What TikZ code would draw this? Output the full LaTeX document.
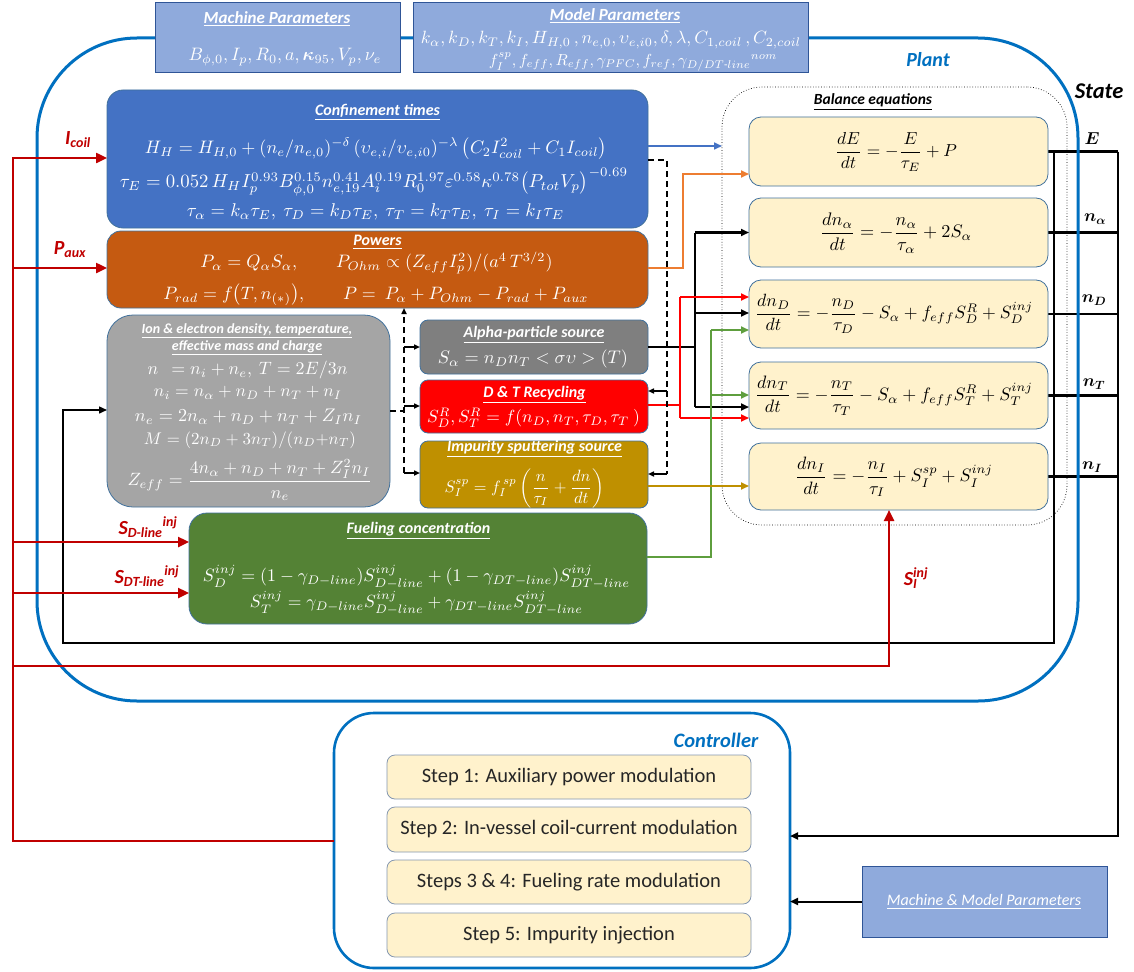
\documentclass[tikz,border=0pt]{standalone}
\usepackage[no-math]{fontspec}
\setmainfont{Carlito}
\usepackage{amsmath,amssymb,bm}
\usepackage{graphicx}
\usetikzlibrary{arrows.meta,calc}
\pgfdeclarelayer{bg}
\pgfsetlayers{bg,main}

\definecolor{plantblue}{HTML}{0070C0}
\definecolor{parfill}{HTML}{8FAADC}
\definecolor{parline}{HTML}{2F5597}
\definecolor{confblue}{HTML}{4472C4}
\definecolor{powersorange}{HTML}{C55A11}
\definecolor{iongray}{HTML}{A5A5A5}
\definecolor{alphagray}{HTML}{7F7F7F}
\definecolor{recycred}{HTML}{FF0000}
\definecolor{impgold}{HTML}{BF9000}
\definecolor{fuelgreen}{HTML}{548235}
\definecolor{fuelarrow}{HTML}{5E9E3E}
\definecolor{balfill}{HTML}{FFF2CC}
\definecolor{edgeblue}{HTML}{41719C}
\definecolor{stepline}{HTML}{8497B0}
\definecolor{ctrlred}{HTML}{C00000}
\definecolor{powarrow}{HTML}{ED7D31}
\definecolor{steptext}{HTML}{262626}

% fit a formula to a given width (in pt)
\newcommand{\fitw}[2]{\resizebox{#1pt}{!}{#2}}
\newcommand{\ttl}[1]{\underline{#1}}
\newcommand{\fsz}[1]{\fontsize{#1}{#1}\selectfont}

\tikzset{
  panel/.style={draw=edgeblue, line width=0.8pt},
  parbox/.style={draw=parline, fill=parfill, line width=1pt},
  balbox/.style={panel, fill=balfill, rounded corners=12pt, minimum width=299pt},
  stepbox/.style={draw=stepline, fill=balfill, line width=0.8pt, rounded corners=8pt, minimum width=364pt, minimum height=44pt},
  steptxt/.style={text=steptext, font=\fsz{20.5}},
  wtitle/.style={text=white, font=\fsz{16}\bfseries\itshape},
  btitle/.style={text=black, font=\fsz{15.5}\bfseries\itshape},
  redlbl/.style={text=ctrlred, font=\fsz{20}\bfseries\itshape},
  statelbl/.style={text=black, font=\fsz{18}\bfseries\itshape},
  arrS/.style={-{Triangle[length=6pt,width=5pt]}},
  arrM/.style={-{Triangle[length=8pt,width=7pt]}},
  arrL/.style={-{Triangle[length=11pt,width=10pt]}},
  stateln/.style={draw=black, line width=2.4pt},
  redln/.style={draw=ctrlred, line width=2.4pt},
  recline/.style={draw=recycred, line width=1.8pt},
  grnline/.style={draw=fuelarrow, line width=1.8pt},
  dashln/.style={draw=black, line width=1.8pt, dash pattern=on 6pt off 4pt},
}

\begin{document}
\begin{tikzpicture}[x=1pt,y=-1pt,every node/.style={inner sep=0pt,outer sep=0pt}]
\useasboundingbox (0,0) rectangle (1134,971);
\begin{pgfonlayer}{bg}
  \fill[white] (0,0) rectangle (1134,971);
\end{pgfonlayer}

% ---------- frames ----------
\node[draw=plantblue, line width=3pt, rounded corners=100pt, minimum width=1041pt, minimum height=663pt] (plant) at (557.5,369.5) {};
\node[draw=plantblue, line width=2.6pt, rounded corners=40pt, minimum width=456pt, minimum height=255pt] (ctrl) at (562,840.5) {};
\node[text=plantblue, font=\fsz{20}\bfseries\itshape] (plantlbl) at (928,60) {Plant};
\node[text=plantblue, font=\fsz{20.5}\bfseries\itshape] (ctrllbl) at (716,740) {Controller};
\node[text=black, font=\fsz{22.5}\bfseries\itshape] (statelbl) at (1099,91) {State};

% ---------- parameter boxes ----------
\node[parbox, minimum width=245pt, minimum height=70pt] (machine) at (277.5,38) {};
\node[parbox, minimum width=395pt, minimum height=70pt] (model) at (610.5,38) {};
\node[parbox, minimum width=245pt, minimum height=71pt] (mmp) at (984.5,901.5) {};

\node[wtitle, font=\fsz{17}\bfseries\itshape] (machT) at (277,19) {\ttl{Machine Parameters}};
\node[text=white] (machL) at (285,57) {\scalebox{1.8}{$B_{\phi,0}, I_p, R_0, a, \boldsymbol{\kappa}_{95}, V_p, \nu_e$}};
\node[wtitle, font=\fsz{17}\bfseries\itshape] (modT) at (615,16) {\ttl{Model Parameters}};
\node[text=white] (modL1) at (611,40) {\fitw{380}{$k_\alpha, k_D, k_T, k_I, H_{H,0}\,, n_{e,0}, \upsilon_{e,i0}, \delta, \lambda, C_{1,coil}\,, C_{2,coil}$}};
\node[text=white] (modL2) at (633,62) {\scalebox{1.6}{$f_I^{sp}, f_{eff}, R_{eff}, \gamma_{PFC}, f_{ref}, {\gamma_{D/DT\text{-}line}}^{nom}$}};
\node[text=white, font=\fsz{16}\itshape] (mmpT) at (984,902) {\ttl{Machine \& Model Parameters}};

% ---------- model blocks ----------
\node[panel, fill=confblue, rounded corners=16pt, minimum width=541pt, minimum height=138pt] (conf) at (377.5,159) {};
\node[panel, fill=powersorange, rounded corners=14pt, minimum width=541pt, minimum height=77pt] (powers) at (377.5,269.5) {};
\node[panel, fill=iongray, rounded corners=26pt, minimum width=283pt, minimum height=192pt] (ion) at (248.5,411) {};
\node[panel, fill=alphagray, rounded corners=8pt, minimum width=228pt, minimum height=54pt] (alpha) at (534,347) {};
\node[panel, fill=recycred, rounded corners=8pt, minimum width=228pt, minimum height=53pt] (recyc) at (534,406.5) {};
\node[panel, fill=impgold, rounded corners=8pt, minimum width=228pt, minimum height=67pt] (impur) at (534,474.5) {};
\node[panel, fill=fuelgreen, rounded corners=18pt, minimum width=458pt, minimum height=111pt] (fuel) at (418,568.5) {};

% confinement times
\node[wtitle] (confT) at (377.5,112) {\ttl{Confinement times}};
\node[text=white] (confL1) at (376,149) {\fitw{462}{$H_H = H_{H,0} + (n_e/n_{e,0})^{-\delta}\,(\upsilon_{e,i}/\upsilon_{e,i0})^{-\lambda}\,\big(C_2 I_{coil}^2 + C_1 I_{coil}\big)$}};
\node[text=white] (confL2) at (374,182) {\fitw{508}{$\tau_E = 0.052\,H_H I_p^{0.93} B_{\phi,0}^{0.15} n_{e,19}^{0.41} A_i^{0.19} R_0^{1.97} \varepsilon^{0.58} \kappa^{0.78} \big(P_{tot}V_p\big)^{-0.69}$}};
\node[text=white] (confL3) at (375.5,212) {\fitw{377}{$\tau_\alpha = k_\alpha\tau_E,\ \tau_D = k_D\tau_E,\ \tau_T = k_T\tau_E,\ \tau_I = k_I\tau_E$}};

% powers
\node[wtitle] (powT) at (377.5,242) {\ttl{Powers}};
\node[text=white] (powL1) at (376.5,263) {\fitw{352}{$P_\alpha = Q_\alpha S_\alpha,\qquad P_{Ohm} \propto (Z_{eff} I_p^2)/(a^4\,T^{3/2})$}};
\node[text=white] (powL2) at (376,295) {\fitw{425}{$P_{rad} = f\big(T, n_{(*)}\big),\qquad P = \ P_\alpha + P_{Ohm} - P_{rad} + P_{aux}$}};

% ion & electron quantities
\node[wtitle, font=\fsz{14}\bfseries\itshape] (ionT1) at (247,331) {\ttl{Ion \& electron density, temperature,}};
\node[wtitle, font=\fsz{14}\bfseries\itshape] (ionT2) at (247,348) {\ttl{effective mass and charge}};
\node[text=white] (ionL1) at (247.5,370) {\fitw{200}{$n\ \ = n_i + n_e,\ T = 2E/3n$}};
\node[text=white] (ionL2) at (248,393) {\fitw{188}{$n_i = n_\alpha + n_D + n_T + n_I$}};
\node[text=white] (ionL3) at (248.5,417) {\fitw{227}{$n_e = 2n_\alpha + n_D + n_T + Z_I n_I$}};
\node[text=white] (ionL4) at (250,440) {\fitw{212}{$M = (2n_D + 3n_T)/(n_D{+}n_T)$}};
\node[text=white] (ionL5) at (250,480) {\fitw{245}{$Z_{eff} = \dfrac{4n_\alpha + n_D + n_T + Z_I^2 n_I}{n_e}$}};

% sources
\node[wtitle] (alphaT) at (534,335) {\ttl{Alpha-particle source}};
\node[text=white] (alphaL) at (533,359) {\fitw{190}{$S_\alpha = n_D n_T < \sigma\upsilon > (T)$}};
\node[wtitle] (recT) at (534.5,395) {\ttl{D \& T Recycling}};
\node[text=white] (recL) at (533.5,418) {\fitw{213}{$S_D^R, S_T^R = f(n_D, n_T, \tau_D, \tau_T\ )$}};
\node[wtitle] (impT) at (534.5,449) {\ttl{Impurity sputtering source}};
\node[text=white] (impL) at (524.5,488) {\fitw{160}{$S_I^{sp} = f_I^{\,sp}\left(\dfrac{n}{\tau_I} + \dfrac{dn}{dt}\right)$}};

% fueling
\node[wtitle] (fuelT) at (418.5,531) {\ttl{Fueling concentration}};
\node[text=white] (fuelL1) at (416.5,577) {\fitw{427}{$S_D^{inj} = (1-\gamma_{D-line})S_{D-line}^{inj} + (1-\gamma_{DT-line})S_{DT-line}^{inj}$}};
\node[text=white] (fuelL2) at (416.5,603) {\fitw{333}{$S_T^{inj} = \gamma_{D-line}S_{D-line}^{inj} + \gamma_{DT-line}S_{DT-line}^{inj}$}};

% ---------- balance equations ----------
\node[draw=black, dotted, line width=0.7pt, rounded corners=40pt, minimum width=345pt, minimum height=438pt] (balgrp) at (894.5,306) {};
\node[btitle] (balTitle) at (873,102) {\ttl{Balance equations}};
\node[balbox, minimum height=69pt] (balE) at (898.5,151.5) {};
\node[balbox, minimum height=69pt] (balA) at (898.5,232.5) {};
\node[balbox, minimum height=68pt] (balD) at (898.5,314) {};
\node[balbox, minimum height=67pt] (balT) at (898.5,395.5) {};
\node[balbox, minimum height=67pt] (balI) at (898.5,476.5) {};
\node (eqE) at (896,152) {\fitw{122}{$\dfrac{dE}{dt} = -\dfrac{E}{\tau_E} + P$}};
\node (eqA) at (896,233) {\fitw{152}{$\dfrac{dn_\alpha}{dt} = -\dfrac{n_\alpha}{\tau_\alpha} + 2S_\alpha$}};
\node (eqD) at (894,314) {\fitw{278}{$\dfrac{dn_D}{dt} = -\dfrac{n_D}{\tau_D} - S_\alpha + f_{eff}S_D^R + S_D^{inj}$}};
\node (eqT) at (894,395.5) {\fitw{278}{$\dfrac{dn_T}{dt} = -\dfrac{n_T}{\tau_T} - S_\alpha + f_{eff}S_T^R + S_T^{inj}$}};
\node (eqI) at (894,477) {\fitw{198}{$\dfrac{dn_I}{dt} = -\dfrac{n_I}{\tau_I} + S_I^{sp} + S_I^{inj}$}};

% state labels
\node[statelbl] (lE) at (1092,139) {$\boldsymbol{E}$};
\node[statelbl] (lA) at (1095,219) {$\boldsymbol{n_\alpha}$};
\node[statelbl] (lD) at (1094,300) {$\boldsymbol{n_D}$};
\node[statelbl] (lT) at (1094,384) {$\boldsymbol{n_T}$};
\node[statelbl] (lI) at (1092,467) {$\boldsymbol{n_I}$};

% ---------- controller steps ----------
\node[stepbox] (step1) at (569,777) {};
\node[stepbox, minimum height=45pt] (step2) at (569,829.5) {};
\node[stepbox] (step3) at (569,882) {};
\node[stepbox] (step4) at (569,935) {};
\node[steptxt] (step1T) at (569,777) {Step 1: Auxiliary power modulation};
\node[steptxt] (step2T) at (569,829.5) {Step 2: In-vessel coil-current modulation};
\node[steptxt] (step3T) at (569,882) {Steps 3 \& 4: Fueling rate modulation};
\node[steptxt] (step4T) at (569,935) {Step 5: Impurity injection};

% ---------- actuator labels ----------
\node[redlbl] (lIcoil) at (78,140) {I\textsubscript{coil}};
\node[redlbl] (lPaux) at (70,250) {P\textsubscript{aux}};
\node[redlbl] (lSD) at (148,527) {S\textsubscript{D-line}\textsuperscript{inj}};
\node[redlbl] (lSDT) at (147,576) {S\textsubscript{DT-line}\textsuperscript{inj}};
\node[redlbl] (lSI) at (916,578) {S\rlap{\textsubscript{I}}\textsuperscript{inj}};

% ---------- routing coordinates ----------
\coordinate (xred) at (13,0);
\coordinate (xloop) at (63,0);
\coordinate (xjion) at (404,0);
\coordinate (xdconf) at (667,0);
\coordinate (xrec) at (680,0);
\coordinate (xpow) at (683,0);
\coordinate (xalp) at (695,0);
\coordinate (xfuel) at (711,0);
\coordinate (xsi) at (889,0);
\coordinate (xbin) at (1054,0);
\coordinate (xbout) at (1118,0);
\coordinate (yIcoil) at (0,158);
\coordinate (yPaux) at (0,268);
\coordinate (ySD) at (0,542);
\coordinate (ySDT) at (0,593);
\coordinate (ySI) at (0,666);
\coordinate (yCtrlOut) at (0,841);
\coordinate (yCtrlIn) at (0,836);
\coordinate (yLoop) at (0,643);
\coordinate (yIonIn) at (0,410);
\coordinate (yConfOut) at (0,146);
\coordinate (yConfDash) at (0,160);
\coordinate (yPowOut) at (0,268);
\coordinate (yEin) at (0,174);
\coordinate (yDred) at (0,297);
\coordinate (yDblk) at (0,313);
\coordinate (yDgrn) at (0,330);
\coordinate (yTgrn) at (0,395);
\coordinate (yTblk) at (0,407);
\coordinate (yTred) at (0,418);
\coordinate (yRecOut) at (0,405);
\coordinate (yFuelOut) at (0,557);
\coordinate (yImpIn) at (0,486);
\coordinate (yRecIn) at (0,391);
\coordinate (yImpDash) at (0,474);
\coordinate (yIonOut) at (0,411);
\coordinate (yRecL) at (0,406);
\coordinate (yImpL) at (0,473);

% ---------- state outputs (behind the plant frame) ----------
\begin{pgfonlayer}{bg}
  \draw[stateln] (balE.east) -- (balE.east -| xbout);
  \draw[stateln] (balA.east) -- (balA.east -| xbout);
  \draw[stateln] (balD.east) -- (balD.east -| xbout);
  \draw[stateln] (balT.east) -- (balT.east -| xbout);
  \draw[stateln] (balI.east) -- (balI.east -| xbout);
\end{pgfonlayer}

% state feedback to the plant and to the controller
\draw[black, line width=1.5pt, arrM] (balE.east -| xbin) -- (xbin |- yLoop) -- (xloop |- yLoop) -- (xloop |- yIonIn) -- (ion.west |- yIonIn);
\draw[black, line width=2.2pt, arrM] (balE.east -| xbout) -- (xbout |- yCtrlIn) -- (ctrl.east |- yCtrlIn);
\draw[black, line width=2pt, arrM] (mmp.west) -- (ctrl.east |- mmp.west);

% ---------- actuator lines ----------
\draw[redln, arrL] (ctrl.west |- yCtrlOut) -- (xred |- yCtrlOut) -- (xred |- yIcoil) -- (conf.west |- yIcoil);
\draw[redln, arrL] (xred |- yPaux) -- (powers.west |- yPaux);
\draw[redln, arrL] (xred |- ySD) -- (fuel.west |- ySD);
\draw[redln, arrL] (xred |- ySDT) -- (fuel.west |- ySDT);
\draw[redln, arrL] (xred |- ySI) -- (xsi |- ySI) -- (xsi |- balI.south);

% ---------- internal flows ----------
\draw[draw=confblue, line width=1.6pt, arrM] (conf.east |- yConfOut) -- (balgrp.west |- yConfOut);
\draw[draw=powarrow, line width=1.8pt, arrM] (powers.east |- yPowOut) -- (xpow |- yPowOut) -- (xpow |- yEin) -- (balE.west |- yEin);

\draw[black, line width=2.6pt] (alpha.east) -- (alpha.east -| xalp);
\draw[black, line width=2.6pt] (xalp |- balA.west) -- (xalp |- yTblk);
\draw[black, line width=2.6pt, arrM] (xalp |- balA.west) -- (balA.west);
\draw[black, line width=2.6pt, arrM] (xalp |- yDblk) -- (balD.west |- yDblk);
\draw[black, line width=2.6pt, arrM] (xalp |- yTblk) -- (balT.west |- yTblk);

\draw[recline] (recyc.east |- yRecOut) -- (xrec |- yRecOut);
\draw[recline] (xrec |- yDred) -- (xrec |- yTred);
\draw[recline, arrM] (xrec |- yDred) -- (balD.west |- yDred);
\draw[recline, arrM] (xrec |- yTred) -- (balT.west |- yTred);

\draw[grnline] (fuel.east |- yFuelOut) -- (xfuel |- yFuelOut) -- (xfuel |- yDgrn);
\draw[grnline, arrM] (xfuel |- yDgrn) -- (balD.west |- yDgrn);
\draw[grnline, arrM] (xfuel |- yTgrn) -- (balT.west |- yTgrn);

\draw[draw=impgold, line width=1.8pt, arrM] (impur.east |- yImpIn) -- (balI.west |- yImpIn);

% confinement times feed the recycling and sputtering models
\draw[dashln] (conf.east |- yConfDash) -- (xdconf |- yConfDash) -- (xdconf |- yImpDash);
\draw[black, line width=1.6pt, arrS] (xdconf |- yRecIn) -- (recyc.east |- yRecIn);
\draw[black, line width=1.6pt, arrS] (xdconf |- yImpDash) -- (impur.east |- yImpDash);

% densities and temperature feed powers and sources
\draw[dashln] (ion.east |- yIonOut) -- (xjion |- yIonOut);
\draw[dashln, arrS] (xjion |- yImpL) -- (xjion |- powers.south);
\draw[black, line width=1.5pt, arrS] (xjion |- alpha.west) -- (alpha.west);
\draw[black, line width=1.5pt, arrS] (xjion |- yRecL) -- (recyc.west |- yRecL);
\draw[black, line width=1.5pt, arrS] (xjion |- yImpL) -- (impur.west |- yImpL);
\end{tikzpicture}
\end{document}
